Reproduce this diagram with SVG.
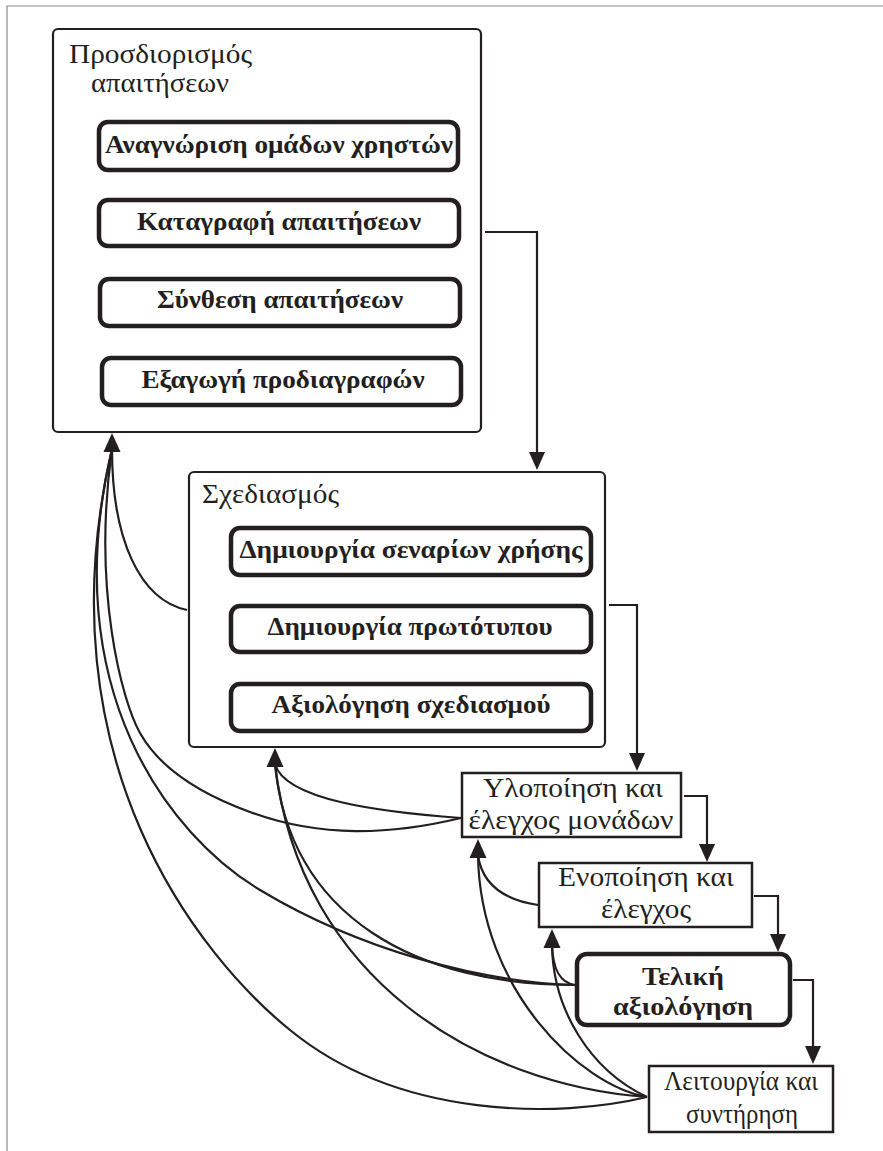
<svg xmlns="http://www.w3.org/2000/svg" width="883" height="1151" viewBox="0 0 883 1151">
<defs>
<style>
.frame{fill:none;stroke:#8a8a8a;stroke-width:1.2}
.outer{fill:#fff;stroke:#231f20;stroke-width:2.2}
.inner{fill:#fff;stroke:#231f20;stroke-width:4.5}
.plain{fill:#fff;stroke:#231f20;stroke-width:2.5}
.heavy{fill:#fff;stroke:#231f20;stroke-width:4.5}
.t{font-family:"Liberation Serif","Times New Roman",serif;font-size:28px;fill:#231f20}
.b{font-family:"Liberation Serif","Times New Roman",serif;font-size:26px;font-weight:bold;fill:#231f20;text-anchor:middle}
.c{text-anchor:middle}
.ln{fill:none;stroke:#231f20;stroke-width:2.2}
.ah{fill:#231f20}
</style>
<path id="up" d="M0,0 L-8.5,19 L8.5,19 Z"/>
<path id="dn" d="M0,0 L-8,-18 L8,-18 Z"/>
</defs>
<g id="frame"><path class="frame" d="M7,1151 V6 H883"/></g>

<g id="n-requirements">
<rect class="outer" x="53" y="29" width="428" height="403" rx="5"/>
<text class="t" x="69" y="63" textLength="183" lengthAdjust="spacingAndGlyphs">Προσδιορισμός</text>
<text class="t" x="91" y="92" textLength="138" lengthAdjust="spacingAndGlyphs">απαιτήσεων</text>
</g>
<g id="n-user-groups"><rect class="inner" x="99" y="122" width="359" height="48" rx="9"/><text class="b" x="279" y="153" textLength="348" lengthAdjust="spacingAndGlyphs">Αναγνώριση ομάδων χρηστών</text></g>
<g id="n-record"><rect class="inner" x="99" y="200" width="360" height="46" rx="9"/><text class="b" x="279" y="230" textLength="284" lengthAdjust="spacingAndGlyphs">Καταγραφή απαιτήσεων</text></g>
<g id="n-synthesis"><rect class="inner" x="100" y="279" width="360" height="47" rx="9"/><text class="b" x="280" y="308" textLength="246" lengthAdjust="spacingAndGlyphs">Σύνθεση απαιτήσεων</text></g>
<g id="n-specs"><rect class="inner" x="102" y="358" width="359" height="47" rx="9"/><text class="b" x="283" y="388" textLength="283" lengthAdjust="spacingAndGlyphs">Εξαγωγή προδιαγραφών</text></g>

<g id="n-design">
<rect class="outer" x="189" y="472" width="416" height="275" rx="5"/>
<text class="t" x="202" y="503" textLength="137" lengthAdjust="spacingAndGlyphs">Σχεδιασμός</text>
</g>
<g id="n-scenarios"><rect class="inner" x="231" y="528" width="360" height="47" rx="9"/><text class="b" x="411" y="558" textLength="343" lengthAdjust="spacingAndGlyphs">Δημιουργία σεναρίων χρήσης</text></g>
<g id="n-prototype"><rect class="inner" x="231" y="606" width="360" height="46" rx="9"/><text class="b" x="410" y="635" textLength="285" lengthAdjust="spacingAndGlyphs">Δημιουργία πρωτότυπου</text></g>
<g id="n-design-eval"><rect class="inner" x="231" y="684" width="360" height="47" rx="9"/><text class="b" x="411" y="713" textLength="279" lengthAdjust="spacingAndGlyphs">Αξιολόγηση σχεδιασμού</text></g>

<g id="n-implementation"><rect class="plain" x="462" y="773" width="219" height="64"/>
<text class="t c" x="573" y="797" textLength="180" lengthAdjust="spacingAndGlyphs">Υλοποίηση και</text><text class="t c" x="571" y="829" textLength="205" lengthAdjust="spacingAndGlyphs">έλεγχος μονάδων</text></g>
<g id="n-integration"><rect class="plain" x="539" y="863" width="213" height="64"/>
<text class="t c" x="646" y="886" textLength="176" lengthAdjust="spacingAndGlyphs">Ενοποίηση και</text><text class="t c" x="646" y="918" textLength="90" lengthAdjust="spacingAndGlyphs">έλεγχος</text></g>
<g id="n-final"><rect class="heavy" x="577" y="954" width="213" height="71" rx="10"/>
<text class="b" x="683" y="985" textLength="82" lengthAdjust="spacingAndGlyphs">Τελική</text><text class="b" x="683" y="1015" textLength="140" lengthAdjust="spacingAndGlyphs">αξιολόγηση</text></g>
<g id="n-operation"><rect class="plain" x="649" y="1066" width="184" height="66"/>
<text class="t c" x="741" y="1090" textLength="154" lengthAdjust="spacingAndGlyphs">Λειτουργία και</text><text class="t c" x="742" y="1123" textLength="112" lengthAdjust="spacingAndGlyphs">συντήρηση</text></g>

<g id="connectors">
<path class="ln" d="M485,232 H537 V452"/><use href="#dn" class="ah" x="537" y="470"/>
<path class="ln" d="M609,605 H637 V753"/><use href="#dn" class="ah" x="637" y="771"/>
<path class="ln" d="M684,796 H707 V844"/><use href="#dn" class="ah" x="707" y="862"/>
<path class="ln" d="M754,896 H778 V934"/><use href="#dn" class="ah" x="778" y="952"/>
<path class="ln" d="M793,980 H813 V1046"/><use href="#dn" class="ah" x="813" y="1064"/>

<path class="ln" d="M187,610 C140,600 112,540 112,449"/>
<path class="ln" d="M461,818 C390,835 320,838 250,812 C195,792 158,765 140,733 C122,701 92,590 112,449"/>
<path class="ln" d="M575,985 C480,982 360,950 260,890 C170,836 55,690 112,449"/>
<path class="ln" d="M647,1097 C560,1118 400,1120 290,1030 C200,957 40,760 112,449"/>
<use href="#up" class="ah" x="112" y="433"/>

<path class="ln" d="M461,818 C380,812 285,800 275,764"/>
<path class="ln" d="M575,985 C420,985 290,920 275,764"/>
<path class="ln" d="M647,1097 C480,1085 300,980 275,764"/>
<use href="#up" class="ah" x="275" y="748"/>

<path class="ln" d="M538,905 C505,900 482,885 478,855"/>
<path class="ln" d="M647,1097 C580,1085 480,990 478,855"/>
<use href="#up" class="ah" x="478" y="839"/>

<path class="ln" d="M575,985 C560,983 553,970 552,945"/>
<path class="ln" d="M647,1097 C590,1070 553,1010 552,945"/>
<use href="#up" class="ah" x="552" y="929"/>
</g>
</svg>
